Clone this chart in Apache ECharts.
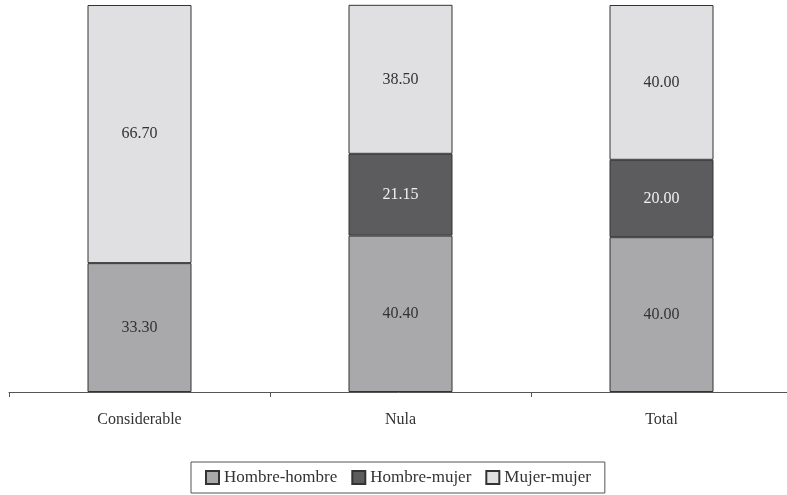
<!DOCTYPE html>
<html>
<head>
<meta charset="utf-8">
<script src="https://cdn.jsdelivr.net/npm/echarts@6/dist/echarts.min.js"></script>
<style>
  html, body { margin: 0; padding: 0; background: #ffffff; }
  #chart { width: 787px; height: 495px; }
</style>
</head>
<body>
<div id="chart"></div>
<script>
// Categories and stacked percentages per pair type
const categories = ['Considerable', 'Nula', 'Total'];
const hombreHombre = [33.30, 40.40, 40.00];
const hombreMujer = [0, 21.15, 20.00];
const mujerMujer = [66.70, 38.50, 40.00];

const FONT = '"Liberation Serif", "DejaVu Serif", serif';

function labelFmt(p) {
  return p.value > 0 ? p.value.toFixed(2) : '';
}

function segment(name, data, color, textColor) {
  return {
    name: name,
    type: 'bar',
    stack: 'total',
    // empty segments are skipped so they do not draw a zero-height outline
    data: data.map(v => (v > 0 ? v : '-')),
    barWidth: 104,
    itemStyle: { color: color, borderColor: '#333333', borderWidth: 1 },
    label: {
      show: true,
      position: 'inside',
      formatter: labelFmt,
      color: textColor,
      fontFamily: FONT,
      fontSize: 16
    },
    emphasis: { disabled: true }
  };
}

const chart = echarts.init(document.getElementById('chart'), null, { renderer: 'canvas' });
chart.setOption({
  animation: false,
  backgroundColor: '#ffffff',
  grid: { left: 9, width: 783, top: 5, bottom: 103, containLabel: false, outerBoundsMode: 'none' },
  legend: {
    bottom: 2,
    left: 191,
    icon: 'rect',
    itemWidth: 13,
    itemHeight: 13,
    itemGap: 14,
    padding: [7, 14, 7, 14],
    borderColor: '#555555',
    borderWidth: 1,
    textStyle: { fontFamily: FONT, fontSize: 17, color: '#333333' },
    data: ['Hombre-hombre', 'Hombre-mujer', 'Mujer-mujer']
  },
  xAxis: {
    type: 'category',
    data: categories,
    axisLine: { lineStyle: { color: '#555555', width: 1 } },
    axisTick: { show: true, length: 5, lineStyle: { color: '#555555' } },
    axisLabel: { fontFamily: FONT, fontSize: 16, color: '#333333', margin: 20 }
  },
  yAxis: {
    type: 'value',
    min: 0,
    max: 100,
    show: false,
    splitLine: { show: false }
  },
  series: [
    segment('Hombre-hombre', hombreHombre, '#a9a9ab', '#333333'),
    segment('Hombre-mujer', hombreMujer, '#5c5c5e', '#f0f0f0'),
    segment('Mujer-mujer', mujerMujer, '#e0e0e2', '#333333')
  ]
});
</script>
</body>
</html>
